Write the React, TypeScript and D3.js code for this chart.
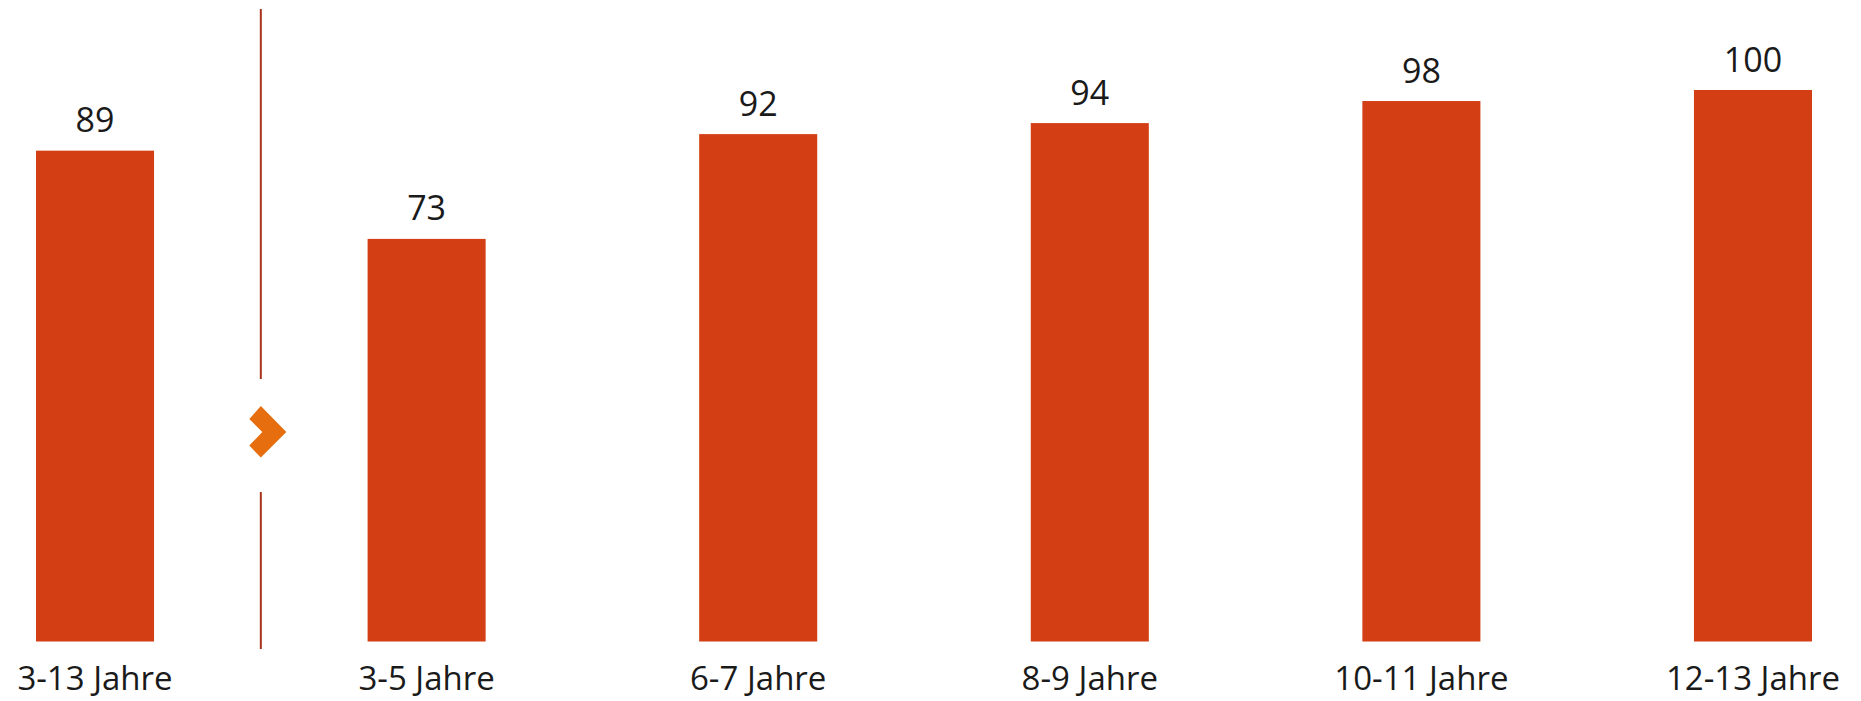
import React from 'react';
import * as d3 from 'd3';

const categories = ['3-13 Jahre', '3-5 Jahre', '6-7 Jahre', '8-9 Jahre', '10-11 Jahre', '12-13 Jahre'];
const values = [89, 73, 92, 94, 98, 100];

const width = 1861,
  height = 701;

const x = d3.scaleBand<string>()
  .domain(categories)
  .range([36, 1812])
  .paddingInner(0.644)
  .paddingOuter(0);

const y = d3.scaleLinear()
  .domain([0, 100])
  .range([641.5, 90]);

const font = '"Open Sans", "Noto Sans", sans-serif';

export default function App() {
  // separator sits halfway between the total bar and the first age group
  const sepX = (x(categories[0])! + x.bandwidth() + x(categories[1])!) / 2;
  const arrowY = 432;
  const chevron = [
    [sepX, arrowY - 26],
    [sepX + 25.5, arrowY],
    [sepX, arrowY + 25.5],
    [sepX - 11.5, arrowY + 13.5],
    [sepX + 1.5, arrowY],
    [sepX - 11.5, arrowY - 13],
  ];

  return (
    <div style={{ position: 'absolute', left: 0, top: 0 }}>
      <svg width={width} height={height} style={{ display: 'block' }}>
        <rect width={width} height={height} fill="#fff" />
        {categories.map((c, i) => (
          <g key={c}>
            <rect
              x={x(c)}
              y={y(values[i])}
              width={x.bandwidth()}
              height={y(0) - y(values[i])}
              fill="#D33E15"
            />
            <text
              x={x(c)! + x.bandwidth() / 2}
              y={y(values[i]) - 18.5}
              textAnchor="middle"
              fontFamily={font}
              fontSize={34}
              fill="#1a1a1a"
            >
              {values[i]}
            </text>
            <text
              x={x(c)! + x.bandwidth() / 2}
              y={690}
              textAnchor="middle"
              fontFamily={font}
              fontSize={33}
              fill="#1a1a1a"
            >
              {c}
            </text>
          </g>
        ))}
        <line x1={sepX} x2={sepX} y1={9} y2={379} stroke="#A8341C" strokeWidth={2} />
        <line x1={sepX} x2={sepX} y1={492} y2={649} stroke="#A8341C" strokeWidth={2} />
        <polygon points={chevron.map(p => p.join(',')).join(' ')} fill="#E76E0E" />
      </svg>
    </div>
  );
}
